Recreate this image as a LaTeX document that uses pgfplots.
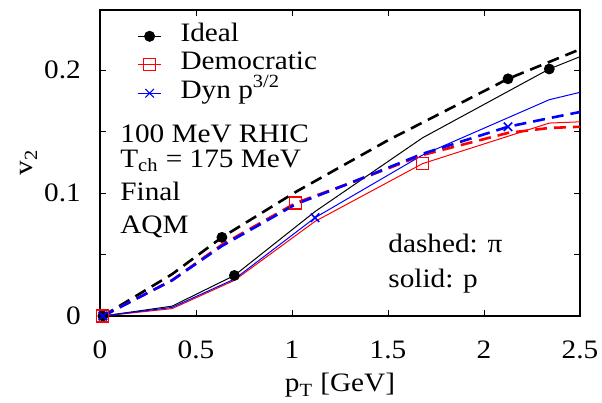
\documentclass[border=0pt]{standalone}
\usepackage{fontspec}
\setmainfont[FakeStretch=1.1]{Liberation Serif}
\usepackage{pgfplots}
\pgfplotsset{compat=1.18}

\begin{document}
\fontsize{13.3}{16}\selectfont
\begin{tikzpicture}
\begin{axis}[
    name=ax,
    scale only axis,
    width=240pt, height=153pt,
    xmin=0, xmax=2.5, ymin=0, ymax=0.249,
    clip=false,
    axis line style={line width=1pt},
    tick style={line width=0.5pt, black},
    major tick length=2.8pt,
    xtick={0,0.5,1,1.5,2,2.5},
    xticklabels={0,0.5,1,1.5,2,2.5},
    ytick={0,0.05,0.1,0.15,0.2},
    yticklabels={0,,0.1,,0.2},
    /pgf/number format/assume math mode=true,
    xticklabel style={yshift=-8pt},
    yticklabel style={xshift=-5pt},
    xlabel={p\textsubscript{T} [GeV]},
    ylabel={v\textsubscript{2}},
    x label style={at={(axis description cs:0.5,-0.248)}, anchor=base},
    y label style={at={(axis description cs:-0.148,0.503)}, anchor=center},
    legend style={at={(axis description cs:0.065,0.975)}, anchor=north west,
        draw=none, fill=none, row sep=0pt,
        nodes={inner sep=0pt, text height=9.5pt, text depth=4.75pt},
        /tikz/every odd column/.append style={column sep=9.5pt}},
    legend cell align=left,
    legend image code/.code={
        \draw[#1] (0pt,0pt) -- (11.5pt,0pt);
        \draw[#1, only marks] plot coordinates {(5.75pt,0pt)};
    },
]
% Ideal
\addplot[black, line width=1.3pt, dash pattern=on 6pt off 3.5pt, forget plot] coordinates {
    (0.015,0) (0.375,0.034) (0.635,0.064) (1.02,0.101) (1.5,0.143) (2.125,0.193) (2.5,0.217)};
\addplot[black, line width=0.5pt, forget plot] coordinates {
    (0.015,0) (0.375,0.008) (0.70,0.033) (1.12,0.085) (1.68,0.145) (2.34,0.201) (2.5,0.211)};
\addplot[black, only marks, mark=*, mark size=2.5pt, forget plot] coordinates {
    (0.015,0) (0.635,0.064) (2.125,0.193) (0.70,0.033) (2.34,0.201)};
% Democratic
\addplot[red, line width=1.3pt, dash pattern=on 6pt off 3.5pt, forget plot] coordinates {
    (0.015,0) (0.375,0.029) (0.635,0.058) (1.02,0.092) (1.30,0.108) (1.68,0.131) (2.125,0.149) (2.34,0.153) (2.5,0.154)};
\addplot[red, line width=0.5pt, forget plot] coordinates {
    (0.015,0) (0.375,0.006) (0.70,0.029) (1.12,0.077) (1.68,0.124) (2.34,0.157) (2.5,0.158)};
\addplot[red, only marks, mark=square, mark size=3pt, line width=0.6pt, forget plot] coordinates {
    (0.015,0) (1.02,0.092) (1.68,0.124)};
% Dyn p^{3/2}
\addplot[blue, line width=1.3pt, dash pattern=on 6pt off 3.5pt, forget plot] coordinates {
    (0.015,0) (0.375,0.029) (0.635,0.057) (1.02,0.091) (1.30,0.108) (1.68,0.132) (2.125,0.154) (2.34,0.161) (2.5,0.166)};
\addplot[blue, line width=0.5pt, forget plot] coordinates {
    (0.015,0) (0.375,0.007) (0.70,0.030) (1.12,0.080) (1.68,0.131) (2.34,0.176) (2.5,0.182)};
\addplot[blue, only marks, mark=x, mark size=3pt, line width=0.8pt, forget plot] coordinates {
    (0.015,0) (1.12,0.080) (2.125,0.154)};

\addlegendimage{color=black, line width=0.5pt, mark=*, mark size=2.5pt}
\addlegendentry{Ideal}
\addlegendimage{color=red, line width=0.5pt, mark=square, mark size=3pt}
\addlegendentry{Democratic}
\addlegendimage{color=blue, line width=0.5pt, mark=x, mark size=3pt}
\addlegendentry{Dyn p\textsuperscript{3/2}}

\node[anchor=base west, inner sep=0pt] at (axis cs:0.104,0.1415) {100 MeV RHIC};
\node[anchor=base west, inner sep=0pt] at (axis cs:0.104,0.121) {T\textsubscript{ch} = 175 MeV};
\node[anchor=base west, inner sep=0pt] at (axis cs:0.104,0.0943) {Final};
\node[anchor=base west, inner sep=0pt] at (axis cs:0.104,0.0675) {AQM};
\node[anchor=base west, inner sep=0pt] at (axis cs:1.5,0.052) {dashed: π};
\node[anchor=base west, inner sep=0pt] at (axis cs:1.5,0.0236) {solid: p};
\end{axis}
\pgfresetboundingbox
\path ([shift={(-50pt,-43pt)}]ax.south west) rectangle ([shift={(11pt,5pt)}]ax.north east);
\end{tikzpicture}
\end{document}
